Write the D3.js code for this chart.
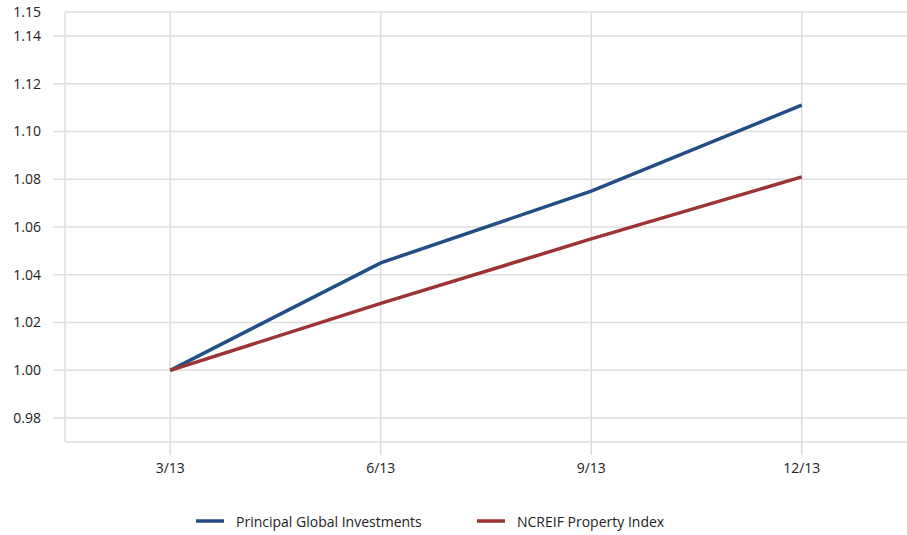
<!DOCTYPE html>
<html>
<head>
<meta charset="utf-8">
<script src="https://cdn.jsdelivr.net/npm/d3@7"></script>
<style>
  body { margin: 0; background: #fff; }
  text { font-family: "Open Sans", Lato, sans-serif; fill: #222; }
</style>
</head>
<body>
<svg id="chart" width="907" height="535"></svg>
<script>
const quarters = ['3/13', '6/13', '9/13', '12/13'];
const principal = [1.000, 1.045, 1.075, 1.111];
const ncreif = [1.000, 1.028, 1.055, 1.081];
const yTicks = [0.98, 1.00, 1.02, 1.04, 1.06, 1.08, 1.10, 1.12, 1.14, 1.15];
const seriesNames = ['Principal Global Investments', 'NCREIF Property Index'];
const colors = ['#234e85', '#9c3434'];

const margin = { top: 12, right: 0, bottom: 93, left: 65 };
const W = 907, H = 535;
const width = W - margin.left - margin.right;
const height = H - margin.top - margin.bottom;

const svg = d3.select('#chart');
const g = svg.append('g').attr('transform', `translate(${margin.left},${margin.top})`);

const x = d3.scalePoint().domain(quarters).range([0, width]).padding(0.5);
const y = d3.scaleLinear().domain([0.97, 1.15]).range([height, 0]);

const grid = '#dedede';

// horizontal grid + tick marks
g.selectAll('.hgrid')
  .data(yTicks.filter(t => t !== 1.15))
  .join('line')
  .attr('x1', -12).attr('x2', width)
  .attr('y1', d => y(d)).attr('y2', d => y(d))
  .attr('stroke', grid).attr('stroke-width', 1.5);

// top border
g.append('line')
  .attr('x1', 0).attr('x2', width)
  .attr('y1', y(1.15)).attr('y2', y(1.15))
  .attr('stroke', grid).attr('stroke-width', 1.5);

// vertical grid
g.selectAll('.vgrid')
  .data(quarters)
  .join('line')
  .attr('x1', d => x(d)).attr('x2', d => x(d))
  .attr('y1', 0).attr('y2', height + 13)
  .attr('stroke', grid).attr('stroke-width', 1.5);

// axis frame
g.append('line').attr('x1', 0).attr('x2', 0).attr('y1', 0).attr('y2', height)
  .attr('stroke', grid).attr('stroke-width', 1.5);
g.append('line').attr('x1', 0).attr('x2', width).attr('y1', height).attr('y2', height)
  .attr('stroke', grid).attr('stroke-width', 1.5);

// y labels
g.selectAll('.ylab')
  .data(yTicks)
  .join('text')
  .attr('x', -24).attr('y', d => y(d))
  .attr('dy', '0.35em')
  .attr('text-anchor', 'end')
  .attr('font-size', 14)
  .text(d => d3.format('.2f')(d));

// x labels
g.selectAll('.xlab')
  .data(quarters)
  .join('text')
  .attr('x', d => x(d)).attr('y', height + 31)
  .attr('text-anchor', 'middle')
  .attr('font-size', 14)
  .text(d => d);

const line = d3.line().x((d, i) => x(quarters[i])).y(d => y(d));

[principal, ncreif].forEach((s, i) => {
  g.append('path')
    .datum(s)
    .attr('d', line)
    .attr('fill', 'none')
    .attr('stroke', colors[i])
    .attr('stroke-width', 3.5);
});

// legend
const legendX = [196, 477];
const legend = svg.append('g');
seriesNames.forEach((name, i) => {
  legend.append('line')
    .attr('x1', legendX[i]).attr('x2', legendX[i] + 28)
    .attr('y1', 521).attr('y2', 521)
    .attr('stroke', colors[i]).attr('stroke-width', 3.5);
  legend.append('text')
    .attr('x', legendX[i] + 40).attr('y', 522)
    .attr('dy', '0.35em')
    .attr('font-size', 14)
    .text(name);
});
</script>
</body>
</html>
